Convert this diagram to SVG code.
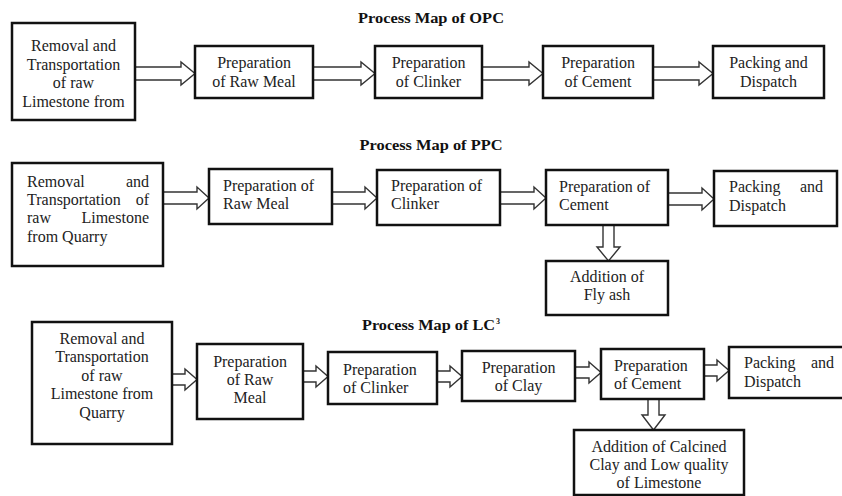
<svg xmlns="http://www.w3.org/2000/svg" width="842" height="496" viewBox="0 0 842 496">
<style>
.bx{fill:#fff;stroke:#111;stroke-width:2.5}
.t{font-family:"Liberation Serif","Times New Roman",serif;font-size:16px;fill:#222}
.c{text-anchor:middle}
.e{text-anchor:end}
.ttl{font-family:"Liberation Serif","Times New Roman",serif;font-size:14px;font-weight:bold;fill:#111;text-anchor:middle}
.sup{font-size:8px;text-anchor:start}
.ar{fill:#fff;stroke:#333;stroke-width:1.4;stroke-linejoin:miter}
</style>
<rect width="842" height="496" fill="#fff"/>

<text class="ttl" x="431" y="23" textLength="146" lengthAdjust="spacingAndGlyphs">Process Map of OPC</text>
<text class="ttl" x="431" y="150" textLength="143" lengthAdjust="spacingAndGlyphs">Process Map of PPC</text>
<text class="ttl" x="362" y="330" style="text-anchor:start" textLength="133" lengthAdjust="spacingAndGlyphs">Process Map of LC</text>
<text class="ttl sup" x="496" y="324">3</text>

<g id="connectors">
  <!-- OPC -->
  <path class="ar" d="M135 67H181V62L195 73.5L181 85V80H135"/>
  <path class="ar" d="M313 67H361V62L375 73.5L361 85V80H313"/>
  <path class="ar" d="M482 67H529V62L543 73.5L529 85V80H482"/>
  <path class="ar" d="M653 67H699V62L713 73.5L699 85V80H653"/>
  <!-- PPC -->
  <path class="ar" d="M163 192H197V187L209 198L197 209V204H163"/>
  <path class="ar" d="M332 192H365V187L377 198L365 209V204H332"/>
  <path class="ar" d="M500 192H534V187L546 198L534 209V204H500"/>
  <path class="ar" d="M668 193H702V188L714 199L702 210V205H668"/>
  <path class="ar" d="M603 225V247H597L608.5 261L620 247H614V225"/>
  <!-- LC3 -->
  <path class="ar" d="M172 374H185V369L197 379.5L185 390V385H172"/>
  <path class="ar" d="M303 371H316V366L328 376.5L316 387V382H303"/>
  <path class="ar" d="M437 371H450V366L462 376.5L450 387V382H437"/>
  <path class="ar" d="M575 367H589V362L601 372.5L589 383V378H575"/>
  <path class="ar" d="M704 365H717V360L729 370.5L717 381V376H704"/>
  <path class="ar" d="M648 399V415H642L653.5 430L665 415H659V399"/>
</g>

<!-- OPC row -->
<g id="opc1"><rect class="bx" x="12" y="23" width="123" height="97"/>
<text class="t c"><tspan x="73.5" y="51">Removal and</tspan><tspan x="73.5" y="69.5">Transportation</tspan><tspan x="73.5" y="88">of raw</tspan><tspan x="73.5" y="106.5">Limestone from</tspan></text></g>
<g id="opc2"><rect class="bx" x="195" y="46" width="118" height="52"/>
<text class="t c"><tspan x="254" y="68">Preparation</tspan><tspan x="254" y="87">of Raw Meal</tspan></text></g>
<g id="opc3"><rect class="bx" x="375" y="46" width="107" height="52"/>
<text class="t c"><tspan x="428.5" y="68">Preparation</tspan><tspan x="428.5" y="87">of Clinker</tspan></text></g>
<g id="opc4"><rect class="bx" x="543" y="46" width="110" height="52"/>
<text class="t c"><tspan x="598" y="68">Preparation</tspan><tspan x="598" y="87">of Cement</tspan></text></g>
<g id="opc5"><rect class="bx" x="713" y="46" width="111" height="52"/>
<text class="t c"><tspan x="768.5" y="68">Packing and</tspan><tspan x="768.5" y="87">Dispatch</tspan></text></g>

<!-- PPC row -->
<g id="ppc1"><rect class="bx" x="12" y="163" width="151" height="103"/>
<text class="t" x="27" y="187">Removal</text><text class="t e" x="149" y="187">and</text>
<text class="t" x="27" y="205">Transportation</text><text class="t e" x="149" y="205">of</text>
<text class="t" x="27" y="223">raw</text><text class="t e" x="149" y="223">Limestone</text>
<text class="t" x="27" y="242">from Quarry</text></g>
<g id="ppc2"><rect class="bx" x="209" y="169" width="123" height="55"/>
<text class="t"><tspan x="223" y="191">Preparation of</tspan><tspan x="223" y="209">Raw Meal</tspan></text></g>
<g id="ppc3"><rect class="bx" x="377" y="170" width="123" height="55"/>
<text class="t"><tspan x="391" y="191">Preparation of</tspan><tspan x="391" y="209">Clinker</tspan></text></g>
<g id="ppc4"><rect class="bx" x="546" y="170" width="122" height="55"/>
<text class="t"><tspan x="559" y="192">Preparation of</tspan><tspan x="559" y="210">Cement</tspan></text></g>
<g id="ppc5"><rect class="bx" x="714" y="171" width="123" height="55"/>
<text class="t" x="729" y="192">Packing</text><text class="t e" x="823" y="192">and</text>
<text class="t" x="729" y="211">Dispatch</text></g>
<g id="ppc6"><rect class="bx" x="546" y="261" width="122" height="54"/>
<text class="t c"><tspan x="607" y="282">Addition of</tspan><tspan x="607" y="300">Fly ash</tspan></text></g>

<!-- LC3 row -->
<g id="lc1"><rect class="bx" x="32" y="322" width="140" height="122"/>
<text class="t c"><tspan x="102" y="344">Removal and</tspan><tspan x="102" y="362">Transportation</tspan><tspan x="102" y="381">of raw</tspan><tspan x="102" y="399">Limestone from</tspan><tspan x="102" y="418">Quarry</tspan></text></g>
<g id="lc2"><rect class="bx" x="197" y="344" width="106" height="75"/>
<text class="t c"><tspan x="250" y="367">Preparation</tspan><tspan x="250" y="385">of Raw</tspan><tspan x="250" y="403">Meal</tspan></text></g>
<g id="lc3"><rect class="bx" x="328" y="352" width="109" height="52"/>
<text class="t"><tspan x="343" y="375">Preparation</tspan><tspan x="343" y="393">of Clinker</tspan></text></g>
<g id="lc4"><rect class="bx" x="462" y="351" width="113" height="50"/>
<text class="t c"><tspan x="518.5" y="373">Preparation</tspan><tspan x="518.5" y="391">of Clay</tspan></text></g>
<g id="lc5"><rect class="bx" x="601" y="349" width="103" height="50"/>
<text class="t"><tspan x="614" y="371">Preparation</tspan><tspan x="614" y="389">of Cement</tspan></text></g>
<g id="lc6"><rect class="bx" x="729" y="347" width="120" height="51"/>
<text class="t" x="744" y="368">Packing</text><text class="t e" x="834" y="368">and</text>
<text class="t" x="744" y="387">Dispatch</text></g>
<g id="lc7"><rect class="bx" x="574" y="430" width="170" height="65"/>
<text class="t c"><tspan x="659" y="452">Addition of Calcined</tspan><tspan x="659" y="470">Clay and Low quality</tspan><tspan x="659" y="488">of Limestone</tspan></text></g>
</svg>
